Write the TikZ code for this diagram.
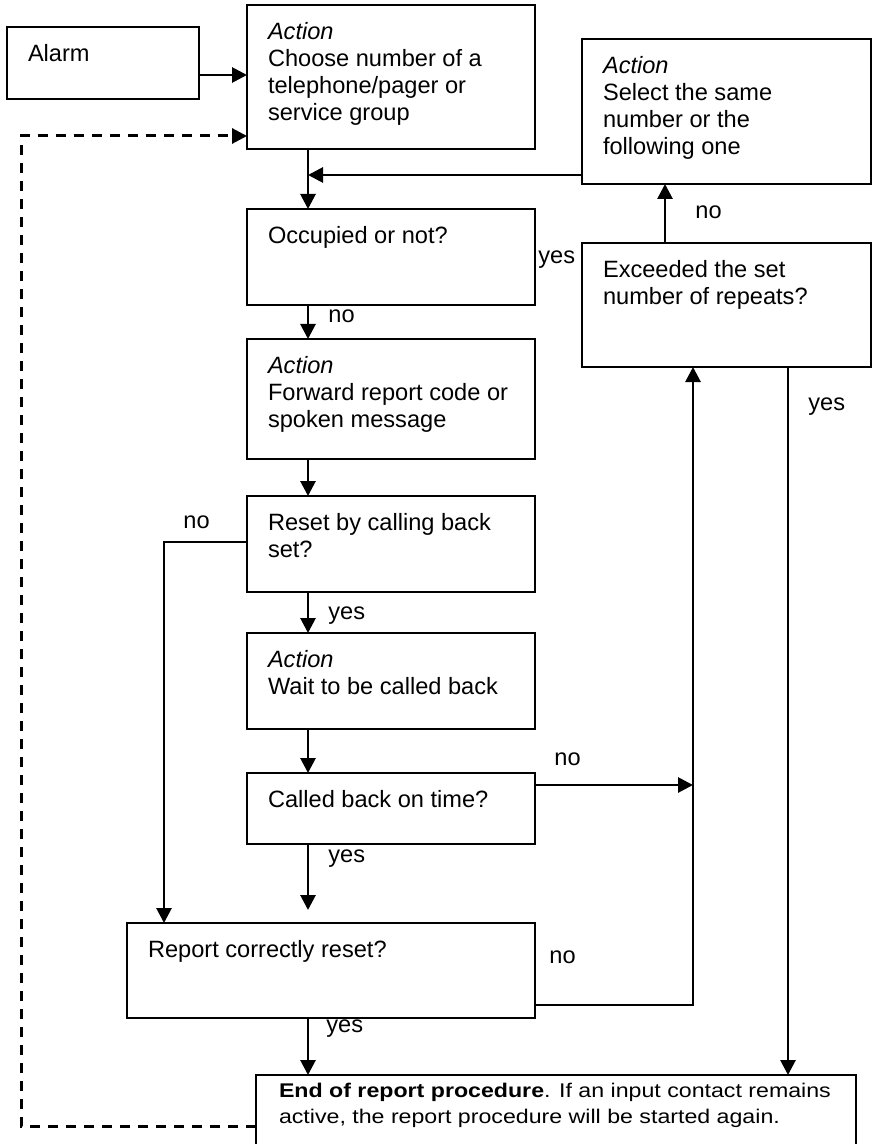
\documentclass[tikz,border=0pt]{standalone}
\usepackage{fontspec}
\setmainfont{Liberation Sans}
\newfontfamily\endfont[FakeStretch=1.17]{Liberation Sans}
\usetikzlibrary{arrows.meta}

\newcommand{\inbox}[3]{\parbox[t][#2][t]{#1}{\raggedright #3}}

\tikzset{
  box/.style={draw, line width=1pt, anchor=north west, inner xsep=10.5pt,
    inner ysep=8.5pt, outer sep=0pt, font=\fontsize{11.8}{13.5}\selectfont},
  lbl/.style={anchor=base west, inner sep=0pt, font=\fontsize{11.8}{13.5}\selectfont},
  arr/.style={line width=1.4pt, -{Triangle[length=7.5pt,width=7.5pt]}},
  dashback/.style={line width=1.5pt, dash pattern=on 5pt off 4pt,
    -{Triangle[length=7.5pt,width=7.5pt]}},
}

\begin{document}
\begin{tikzpicture}[x=0.5pt, y=-0.5pt]
\clip (0,0) rectangle (876,1144);

% main column
\node[box] (alarm) at (7,27) {\inbox{75pt}{19pt}{Alarm}};
\node[box] (choose) at (247,5) {\inbox{123pt}{55pt}{\textit{Action}\\Choose number of a\\telephone/pager or\\service group}};
\node[box] (occ) at (247,209) {\inbox{123pt}{31pt}{Occupied or not?}};
\node[box] (fwd) at (247,339) {\inbox{123pt}{43pt}{\textit{Action}\\Forward report code or\\spoken message}};
\node[box] (reset) at (247,496) {\inbox{123pt}{31pt}{Reset by calling back\\set?}};
\node[box] (wait) at (247,633) {\inbox{123pt}{31pt}{\textit{Action}\\Wait to be called back}};
\node[box] (called) at (247,773) {\inbox{123pt}{18.5pt}{Called back on time?}};
\node[box] (report) at (127,923) {\inbox{183pt}{30.5pt}{Report correctly reset?}};

% right column
\node[box] (select) at (582,39) {\inbox{123.5pt}{55.5pt}{\textit{Action}\\Select the same\\number or the\\following one}};
\node[box] (exceed) at (582,243) {\inbox{123.5pt}{45pt}{Exceeded the set\\number of repeats?}};

% end of procedure
\node[box, inner xsep=11.5pt, inner ysep=4pt, font=\endfont\fontsize{9.9}{13}\selectfont] (end) at (256,1075)
  {\inbox{277pt}{52pt}{\mbox{\textbf{End of report procedure}. If an input contact remains}\\active, the report procedure will be started again.}};

% points on the box edges
\coordinate (alarmout) at ([yshift=-24pt]alarm.north east);
\coordinate (mainx) at ([xshift=30.5pt]choose.south west);
\coordinate (selout) at ([yshift=4.5pt]select.south west);
\coordinate (resetout) at ([yshift=-23pt]reset.north west);
\coordinate (reportin) at ([xshift=18.5pt]report.north west);
\coordinate (reportnear) at ([yshift=6.5pt]report.north west);
\coordinate (calledout) at ([yshift=-6pt]called.north east);
\coordinate (reportout) at ([yshift=6.5pt]report.south east);
\coordinate (exceedup) at ([xshift=41.5pt]exceed.north west);
\coordinate (exceedin) at ([xshift=55.5pt]exceed.south west);
\coordinate (exceedyes) at ([xshift=103pt]exceed.south west);
\coordinate (endout) at ([yshift=-25.5pt]end.north west);
\coordinate (choosein) at ([yshift=-65.5pt]choose.north west);
\coordinate (backturn) at (21,1126);

% connectors
\draw[arr] (alarmout) -- (alarmout -| choose.west);
\draw[arr] (mainx) -- (mainx |- occ.north);
\draw[arr] (selout) -- (selout -| mainx);
\draw[arr] (exceedup) -- (exceedup |- select.south);
\draw[arr] (mainx |- occ.south) -- (mainx |- fwd.north);
\draw[arr] (mainx |- fwd.south) -- (mainx |- reset.north);
\draw[arr] (resetout) -| (reportin);
\draw[arr] (mainx |- reset.south) -- (mainx |- wait.north);
\draw[arr] (mainx |- wait.south) -- (mainx |- called.north);
\draw[arr] (calledout) -- (calledout -| exceedin);
\draw[arr] (mainx |- called.south) -- (mainx |- reportnear);
\draw[arr] (reportout) -| (exceedin);
\draw[arr] (exceedyes) -- (exceedyes |- end.north);
\draw[arr] (mainx |- report.south) -- (mainx |- end.north);
\draw[dashback] (endout) -- (backturn) |- (choosein);

% yes / no
\node[lbl] (yes1) at (538,264) {yes};
\node[lbl] (no1) at (695,219) {no};
\node[lbl] (no2) at (328,322) {no};
\node[lbl] (no3) at (183,528) {no};
\node[lbl] (yes2) at (328,619) {yes};
\node[lbl] (no4) at (554,765) {no};
\node[lbl] (yes3) at (328,862) {yes};
\node[lbl] (no5) at (549,963) {no};
\node[lbl] (yes4) at (326,1032) {yes};
\node[lbl] (yes5) at (808,410) {yes};
\end{tikzpicture}
\end{document}
